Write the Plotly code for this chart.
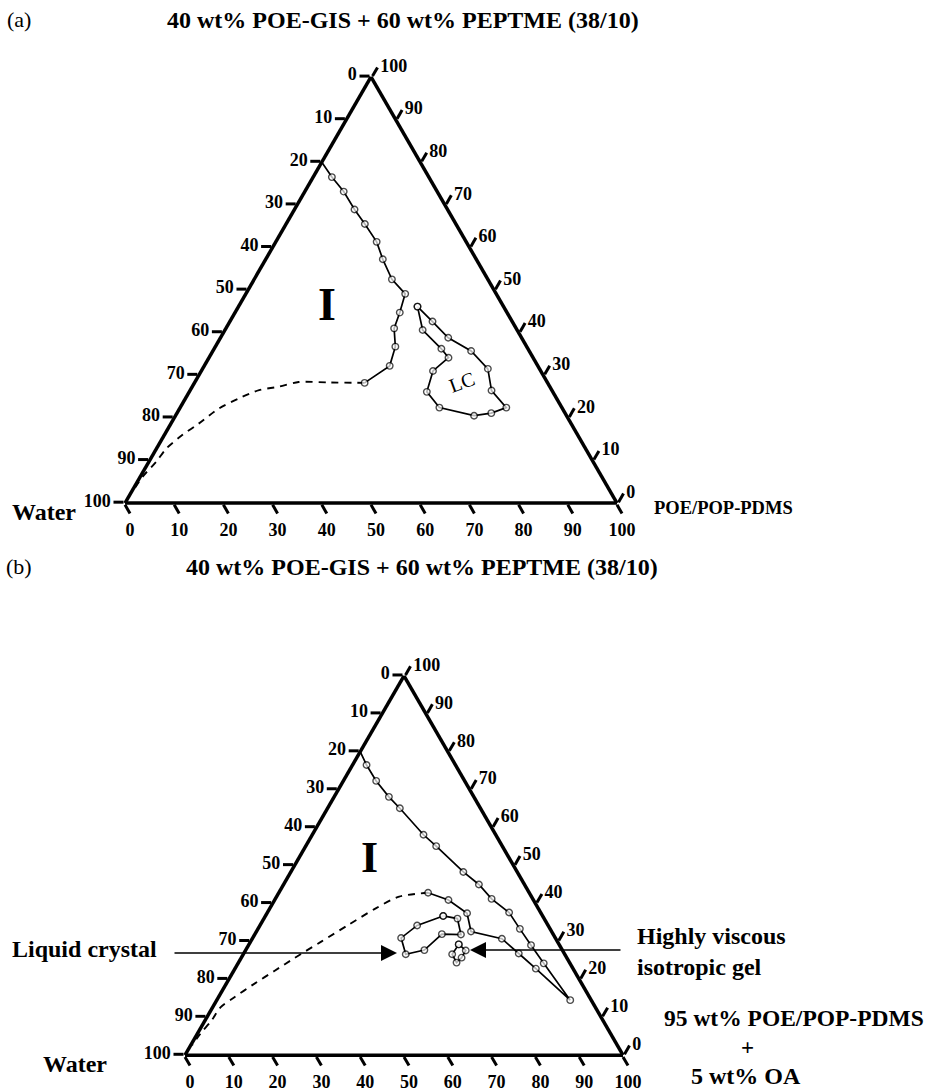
import plotly.graph_objects as go

FIG_W, FIG_H = 928, 1091

# ---------------- tick values / labels ----------------
TICKS = [0, 10, 20, 30, 40, 50, 60, 70, 80, 90, 100]
TICK_TEXT = [str(100 - v) for v in TICKS]

# a = surfactant mix (top), b = water (bottom-left), c = oil (bottom-right)
# ---------------- panel (a) ----------------
a_iso_a = [80.0, 76.5, 73.1, 68.9, 65.5, 61.3, 57.2, 52.5, 49.1, 44.7, 41.0, 36.7, 32.2, 28.2]
a_iso_b = [20.0, 19.7, 19.0, 18.9, 18.5, 18.2, 19.0, 19.5, 18.5, 21.8, 24.8, 26.7, 30.1, 37.2]
a_iso_c = [0.0, 3.8, 7.9, 12.2, 16.0, 20.5, 23.8, 28.0, 32.4, 33.5, 34.2, 36.6, 37.7, 34.6]

a_dash_a = [28.2, 28.3, 28.4, 27.3, 26.5, 24.6, 22.2, 18.7, 16.0, 12.8, 9.7, 6.2, 2.6]
a_dash_b = [37.2, 44.4, 50.5, 55.1, 59.5, 64.5, 69.8, 75.6, 80.3, 85.2, 88.8, 93.3, 97.2]
a_dash_c = [34.6, 27.3, 21.1, 17.6, 14.0, 10.9, 8.0, 5.7, 3.7, 2.0, 1.5, 0.5, 0.2]

a_lc_a = [46.1, 42.6, 38.8, 35.7, 31.5, 26.4, 22.4, 21.1, 20.5, 22.4, 26.1, 31.0, 34.1, 36.2, 40.6, 46.1]
a_lc_b = [17.5, 16.2, 14.9, 11.8, 10.5, 12.3, 11.3, 15.0, 18.8, 24.9, 25.6, 21.9, 17.2, 17.6, 19.2, 17.5]
a_lc_c = [36.4, 41.2, 46.3, 52.5, 58.0, 61.3, 66.3, 63.9, 60.7, 52.7, 48.3, 47.1, 48.7, 46.2, 40.2, 36.4]

# ---------------- panel (b) ----------------
b_iso_a = [80.0, 76.5, 72.3, 68.1, 65.1, 58.1, 55.1, 48.3, 45.0, 41.2, 37.6, 33.3, 29.0, 24.2, 14.5,
           22.8, 26.8, 30.7, 32.6, 37.4, 40.9, 42.8]
b_iso_b = [20.0, 20.3, 20.2, 19.4, 18.4, 16.5, 15.1, 12.3, 10.4, 9.4, 7.2, 6.9, 6.5, 6.0, 4.8,
           8.5, 10.4, 12.3, 18.4, 16.9, 19.4, 23.1]
b_iso_c = [0.0, 3.2, 7.5, 12.5, 16.5, 25.4, 29.8, 39.4, 44.6, 49.4, 55.2, 59.8, 64.5, 69.8, 80.7,
           68.7, 62.8, 57.0, 49.0, 45.7, 39.7, 34.1]

b_dash_a = [42.8, 41.8, 38.7, 34.4, 30.0, 25.6, 22.2, 18.8, 15.2, 12.6, 9.1, 5.7, 2.6]
b_dash_b = [23.1, 30.2, 37.1, 45.4, 53.8, 62.2, 68.5, 74.8, 81.2, 85.6, 89.4, 93.6, 97.1]
b_dash_c = [34.1, 28.0, 24.2, 20.2, 16.2, 12.2, 9.3, 6.4, 3.6, 1.8, 1.5, 0.7, 0.3]

b_lc_a = [36.7, 36.0, 31.8, 31.9, 27.7, 26.6, 30.9, 34.2, 36.7]
b_lc_b = [22.7, 19.8, 21.1, 25.4, 31.5, 36.3, 35.2, 29.9, 22.7]
b_lc_c = [40.6, 44.2, 47.1, 42.7, 40.8, 37.1, 33.9, 35.9, 40.6]

b_gel_a = [29.2, 27.6, 25.7, 24.4, 26.6, 29.2]
b_gel_b = [22.9, 22.1, 24.0, 25.8, 25.7, 22.9]
b_gel_c = [47.9, 50.3, 50.3, 49.8, 47.7, 47.9]

SERIF = "Liberation Serif"

fig = go.Figure()


def add_marked(sub, a, b, c, first_bare=False):
    sizes = [6.5] * len(a)
    if first_bare:
        sizes[0] = 0
    fig.add_trace(go.Scatterternary(
        a=a, b=b, c=c, subplot=sub, mode="lines+markers",
        line=dict(color="black", width=1.7),
        marker=dict(symbol="circle", size=sizes, color="white",
                    line=dict(color="black", width=1.4)),
        showlegend=False, hoverinfo="skip", cliponaxis=False))


def add_dashed(sub, a, b, c):
    fig.add_trace(go.Scatterternary(
        a=a, b=b, c=c, subplot=sub, mode="lines",
        line=dict(color="black", width=1.9, dash="7px,6px", shape="spline", smoothing=0.8),
        showlegend=False, hoverinfo="skip"))


add_dashed("ternary", a_dash_a, a_dash_b, a_dash_c)
add_marked("ternary", a_iso_a, a_iso_b, a_iso_c, first_bare=True)
add_marked("ternary", a_lc_a, a_lc_b, a_lc_c)

add_dashed("ternary2", b_dash_a, b_dash_b, b_dash_c)
add_marked("ternary2", b_iso_a, b_iso_b, b_iso_c, first_bare=True)
add_marked("ternary2", b_lc_a, b_lc_b, b_lc_c)
add_marked("ternary2", b_gel_a, b_gel_b, b_gel_c)


def axis():
    return dict(
        tickmode="array", tickvals=TICKS, ticktext=TICK_TEXT,
        ticks="outside", ticklen=10, tickwidth=3, tickcolor="black",
        showline=True, linecolor="black", linewidth=3.5,
        showgrid=False, layer="above traces",
        tickfont=dict(family=SERIF, size=18, color="black", weight="bold"),
        title=dict(text=""), min=0,
    )


def px(x):
    return x / FIG_W


def py(y):
    return 1 - y / FIG_H


def tern(cx, cy, w):
    hh = w * 0.9  # generous vertical room; width constrains
    return dict(
        sum=100, bgcolor="white",
        domain=dict(x=[px(cx - w / 2), px(cx + w / 2)],
                    y=[py(cy + hh / 2), py(cy - hh / 2)]),
        aaxis=axis(), baxis=axis(), caxis=axis(),
    )


def txt(x, y, s, size=22, bold=True, xanchor="center", angle=0, align="center"):
    return dict(x=px(x), y=py(y), xref="paper", yref="paper", text=s, showarrow=False,
                xanchor=xanchor, yanchor="middle", textangle=angle, align=align,
                font=dict(family=SERIF, size=size, color="black",
                          weight="bold" if bold else "normal"))


def arrow(hx, hy, tx, ty):
    return dict(x=px(hx), y=py(hy), xref="paper", yref="paper", text="",
                showarrow=True, ax=tx - hx, ay=ty - hy, axref="pixel", ayref="pixel",
                arrowhead=2, arrowsize=2.0, arrowwidth=1.6, arrowcolor="black", standoff=0)


title_txt = "40 wt% POE-GIS + 60 wt% PEPTME (38/10)"

annotations = [
    txt(19, 19, "(a)", size=22, bold=False),
    txt(403, 20, title_txt, size=24),
    txt(44, 512, "Water", size=24),
    txt(652, 508, "POE/POP-PDMS", size=18.5, xanchor="left"),
    txt(327, 305, "I", size=46),
    txt(462, 382, "LC", size=20, bold=False, angle=-20),

    txt(19, 566, "(b)", size=22, bold=False),
    txt(422, 567, title_txt, size=24),
    txt(10, 949, "Liquid crystal", size=24, xanchor="left"),
    arrow(397, 953, 173, 953),
    txt(635, 951, "Highly viscous<br>isotropic gel", size=24, xanchor="left", align="left"),
    arrow(470, 950, 622, 950),
    txt(662, 1018, "95 wt% POE/POP-PDMS", size=23.5, xanchor="left"),
    txt(747, 1047, "+", size=23),
    txt(746, 1076, "5 wt% OA", size=24),
    txt(75, 1064, "Water", size=24),
    txt(369, 857, "I", size=44),
]

fig.update_layout(
    width=FIG_W, height=FIG_H,
    margin=dict(l=0, r=0, t=0, b=0),
    paper_bgcolor="white", plot_bgcolor="white",
    showlegend=False,
    ternary=tern(371, 290, 492),
    ternary2=tern(404, 865.5, 438),
    annotations=annotations,
)

fig.write_html("out.html", config={"displayModeBar": False},
               post_script="document.body.style.margin='0px';")
